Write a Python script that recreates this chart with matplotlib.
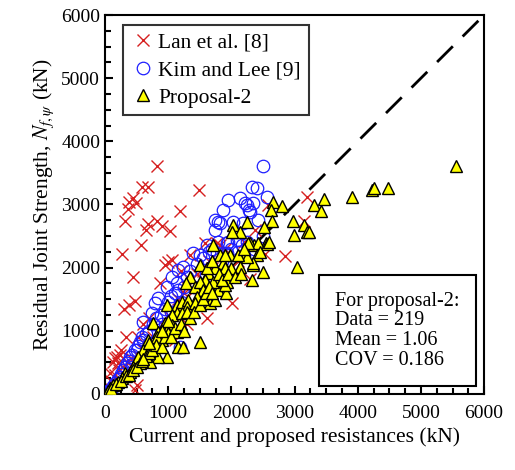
import numpy as np
import matplotlib.pyplot as plt
from matplotlib.ticker import MultipleLocator

plt.rcParams['font.family'] = ['Liberation Serif', 'DejaVu Serif']
plt.rcParams['mathtext.fontset'] = 'stix'

# Lan et al. [8]  (resistance, strength) in kN
lan_x = [818, 580, 675, 1483, 448, 384, 490, 359, 1187, 316, 685, 644, 828, 897, 1028, 575, 264,
         1002, 1055, 949, 448, 870, 300, 384, 475, 1609, 2004, 2848, 2373, 2532, 1820, 3191, 3149,
         2584, 1767, 1582, 2294, 2004,
         131, 185, 210, 158, 237, 79, 475, 501, 50, 100, 160, 220, 280, 350, 420, 540, 600, 700,
         760, 820, 900, 1000, 1100, 1150, 1250, 1300, 1400, 1450, 1550, 1650, 1700, 1900, 2100,
         2200, 1350, 1200, 600, 700, 520, 260, 330, 650, 800, 1100, 1300]
lan_y = [3612, 3270, 3270, 3228, 3096, 3043, 3017, 2922, 2896, 2742, 2690, 2595, 2742, 2658, 2579,
         2352, 2210, 2093, 2120, 2041, 1856, 1751, 1340, 1408, 1476, 1198, 1445, 2184, 2595, 2220,
         2358, 3122, 2742, 2990, 2384, 2384, 1820, 1883,
         511, 590, 486, 565, 617, 327, 63, 142, 120, 200, 300, 380, 420, 500, 560, 600, 700, 760,
         900, 1000, 1100, 1250, 1300, 1500, 1600, 1700, 1650, 1900, 1950, 2100, 2000, 2300, 2100,
         2400, 2200, 1950, 1100, 1200, 900, 700, 900, 500, 650, 850, 1100]

# Kim and Lee [9]
kim_x = [2505, 2321, 2400, 2558, 2136, 1951, 2242, 2347, 1872, 2294, 1741, 1741, 1793, 2426, 2030,
         2188, 1951, 2083, 2242, 1609, 1503, 1397, 1239, 1160, 1055, 976, 1134, 843, 791, 739, 606,
         580, 554, 475, 396, 343, 290, 237, 158, 106, 1187, 1767, 1925, 2109, 1793, 1925, 2163,
         1820, 2283, 2215,
         50, 80, 130, 200, 260, 320, 380, 430, 500, 520, 600, 650, 700, 760, 800, 880, 950, 1000,
         1050, 1100, 1150, 1250, 1300, 1350, 1450, 1550, 1650, 1700, 2000, 2200, 2350, 1050, 900,
         1200, 1400, 1600, 1850, 700, 420, 2500]
kim_y = [3612, 3281, 3254, 3122, 3096, 3069, 2990, 3017, 2911, 2885, 2753, 2595, 2726, 2753, 2726,
         2700, 2410, 2437, 2410, 2358, 2199, 2226, 2014, 1962, 1856, 1698, 1751, 1514, 1435, 1277,
         1144, 907, 828, 696, 590, 486, 380, 274, 169, 90, 749, 2226, 2226, 2252, 2410, 2384, 2358,
         2711, 2911, 3017,
         40, 60, 120, 230, 320, 420, 520, 620, 700, 760, 850, 950, 1000, 1100, 1200, 1250, 1350,
         1450, 1550, 1600, 1650, 1700, 1850, 1950, 2050, 2150, 2250, 2300, 2300, 2200, 2300, 1300,
         1100, 1450, 1700, 1900, 2100, 800, 480, 2500]

# Proposal-2
p2_x = [5549, 4219, 4256, 4483, 3913, 3470, 3307, 3413, 3149, 3191, 3233, 2970, 2991, 3043, 2495,
        2663, 2622, 2806, 2647, 2516, 2358, 2547, 2410, 2337, 2321, 2030, 2242, 2136, 2004, 2294,
        2426, 2558, 2215, 2347, 1714, 1820, 1978, 1872, 1741, 1635, 1582, 1767, 1925, 1661, 1793,
        1915, 1899, 2242, 2268, 1503, 1609, 1899, 2136, 1345, 1282, 1424, 1503, 1714, 1899, 1661,
        1741, 1556, 1451, 976, 1134, 1213, 1318, 1292, 1424, 1134, 1055, 1213, 1345, 949, 1055,
        976, 764, 843, 1002, 1134, 897, 685, 818, 1503, 1160, 1229, 976, 843, 712, 606, 527, 554,
        448, 396, 316, 264, 210, 131, 79,
        40, 100, 180, 250, 330, 380, 450, 500, 580, 650, 700, 750, 800, 900, 950, 1050, 1100, 1200,
        1250, 1300, 1400, 1500, 1550, 1600, 1650, 1700, 1800, 1850, 2000, 2100, 2200, 1000, 900,
        600, 700, 1700, 1950, 2050, 2150, 2450, 2600]
p2_y = [3608, 3228, 3254, 3254, 3112, 3081, 2990, 2900, 2674, 2568, 2568, 2742, 2516, 2014, 1935,
        3043, 2911, 2975, 2737, 2637, 2358, 2384, 2199, 2041, 1804, 2674, 2726, 2568, 2568, 2384,
        2384, 2373, 2199, 2068, 2358, 2199, 2199, 2068, 1988, 1909, 1804, 1804, 1777, 1672, 1646,
        1603, 2199, 2173, 2384, 2041, 1988, 1988, 2014, 1856, 1751, 1698, 1777, 1777, 1725, 1435,
        1487, 1646, 1540, 1408, 1408, 1461, 1487, 1382, 1435, 1277, 1250, 1277, 1198, 1119, 1092,
        1013, 1119, 986, 960, 986, 854, 854, 907, 828, 749, 749, 590, 590, 511, 696, 590, 486,
        432, 353, 327, 248, 195, 142, 90,
        40, 80, 150, 200, 280, 300, 380, 420, 520, 600, 650, 700, 780, 750, 900, 900, 1050, 1100,
        1000, 1300, 1300, 1400, 1500, 1600, 1700, 1600, 1900, 1800, 2000, 2200, 2300, 1150, 1000,
        550, 800, 2100, 1900, 1850, 1900, 2250, 2400]

fig = plt.figure(figsize=(5.15, 4.7), dpi=100)
ax = fig.add_axes([0.204, 0.162, 0.736, 0.806])

ax.plot([0, 6000], [0, 6000], color='black', lw=2, dashes=(8, 5), zorder=1)
ax.plot(lan_x, lan_y, 'x', color='#d62020', markersize=8, mew=1, label='Lan et al. [8]', zorder=2)
ax.plot(kim_x, kim_y, 'o', mfc='none', mec='#1f1fff', markersize=9, mew=0.9,
        label='Kim and Lee [9]', zorder=3)
ax.plot(p2_x, p2_y, '^', mfc='#ffff00', mec='black', markersize=9, mew=1,
        label='Proposal-2', zorder=4)

ax.set_xlim(0, 6000)
ax.set_ylim(0, 6000)
ax.xaxis.set_major_locator(MultipleLocator(1000))
ax.yaxis.set_major_locator(MultipleLocator(1000))
ax.xaxis.set_minor_locator(MultipleLocator(250))
ax.yaxis.set_minor_locator(MultipleLocator(250))
ax.tick_params(which='both', direction='in', labelsize=14, width=1.5)
ax.tick_params(which='major', length=6)
ax.tick_params(which='minor', length=4)
ax.tick_params(axis='x', pad=8)
for s in ax.spines.values():
    s.set_linewidth(1.5)

ax.set_xlabel('Current and proposed resistances (kN)', fontsize=15.5)
ax.set_ylabel(r'Residual Joint Strength, $N_{f,\psi}$ (kN)', fontsize=15.5)

leg = ax.legend(loc='upper left', bbox_to_anchor=(0.047, 0.974), borderaxespad=0,
                fontsize=15.5, frameon=True, fancybox=False, edgecolor='black',
                handletextpad=0.1, handlelength=1.2, borderpad=0.35, labelspacing=0.35)
leg.get_frame().set_linewidth(1.5)

ax.text(0.607, 0.27, 'For proposal-2:\nData = 219\nMean = 1.06\nCOV = 0.186',
        transform=ax.transAxes, fontsize=14.5, va='top', ha='left', linespacing=1.05,
        bbox=dict(boxstyle='square,pad=0.8', facecolor='white', edgecolor='black', lw=1.5))

fig.savefig('out.png', dpi=100)
